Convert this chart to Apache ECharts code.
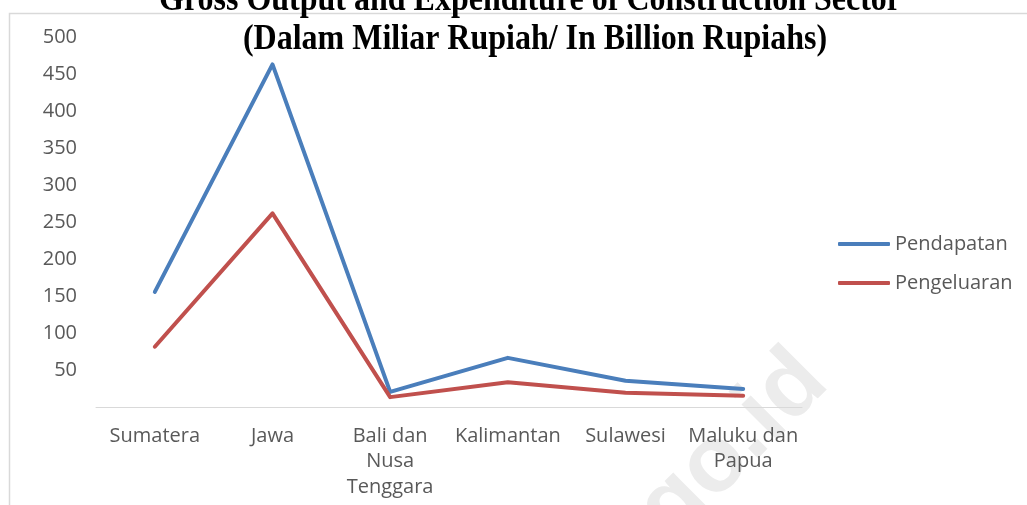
<!DOCTYPE html>
<html>
<head>
<meta charset="utf-8">
<script src="https://cdn.jsdelivr.net/npm/echarts@6/dist/echarts.min.js"></script>
<style>
  html, body { margin: 0; padding: 0; background: #ffffff; }
  #chart { width: 1027px; height: 505px; }
</style>
</head>
<body>
<div id="chart"></div>
<script>
// Regions of Indonesia
const regions = ['Sumatera', 'Jawa', 'Bali dan\nNusa\nTenggara', 'Kalimantan', 'Sulawesi', 'Maluku dan\nPapua'];
// Gross output (Pendapatan) and expenditure (Pengeluaran), billion rupiahs
const pendapatan = [156, 463, 21, 67, 36, 25];
const pengeluaran = [82, 262, 14, 34, 20, 16];
const seriesNames = ['Pendapatan', 'Pengeluaran'];
const titleLines = [
  'Gross Output and Expenditure of Construction Sector',
  '(Dalam Miliar Rupiah/ In Billion Rupiahs)'
];

const labelFont = '"Open Sans", "DejaVu Sans", sans-serif';
const grey = '#595959';
const titleFont = 'bold 32px "Liberation Serif", "Times New Roman", serif';

const chart = echarts.init(document.getElementById('chart'), null, { renderer: 'canvas' });

chart.setOption({
  animation: false,
  backgroundColor: '#ffffff',
  color: ['#4a7ebb', '#c0504d'],
  grid: { left: 96, right: 225, top: 37, bottom: 97.5, containLabel: false },
  legend: {
    orient: 'vertical',
    left: 838,
    top: 234,
    padding: 0,
    icon: 'roundRect',
    itemWidth: 52,
    itemHeight: 4,
    itemGap: 19,
    data: seriesNames,
    textStyle: { fontFamily: labelFont, fontSize: 20, color: grey, lineHeight: 20 }
  },
  xAxis: {
    type: 'category',
    data: regions,
    boundaryGap: true,
    axisLine: { show: true, lineStyle: { color: '#d9d9d9', width: 1 } },
    axisTick: { show: false },
    axisLabel: {
      interval: 0,
      margin: 16,
      fontFamily: labelFont,
      fontSize: 20,
      lineHeight: 25.5,
      color: grey
    }
  },
  yAxis: {
    type: 'value',
    min: 0,
    max: 500,
    interval: 50,
    axisLine: { show: false },
    axisTick: { show: false },
    splitLine: { show: false },
    axisLabel: {
      margin: 19,
      fontFamily: labelFont,
      fontSize: 20,
      color: grey,
      formatter: v => (v === 0 ? '' : String(v))
    }
  },
  series: [
    {
      name: seriesNames[0],
      type: 'line',
      data: pendapatan,
      symbol: 'none',
      z: 3,
      lineStyle: { width: 4, cap: 'round', join: 'round' }
    },
    {
      name: seriesNames[1],
      type: 'line',
      data: pengeluaran,
      symbol: 'none',
      z: 3,
      lineStyle: { width: 4, cap: 'round', join: 'round' }
    }
  ],
  graphic: [
    // faint diagonal watermark
    {
      type: 'text',
      z: -10,
      x: 846,
      y: 400,
      rotation: Math.PI / 4,
      style: {
        text: 'bps.go.id',
        font: 'bold 94px "Liberation Sans", Arial, sans-serif',
        fill: '#ececec',
        textAlign: 'right',
        textVerticalAlign: 'bottom'
      }
    },
    // frame around the plot
    {
      type: 'polyline',
      z: 1,
      shape: { points: [[9.5, 505], [9.5, 13.5], [1027, 13.5]] },
      style: { stroke: '#d9d9d9', lineWidth: 1.5, fill: null }
    },
    // two-line heading, slightly tall letterforms
    {
      type: 'text',
      z: 10,
      x: 530,
      y: 1,
      scaleY: 1.14,
      style: {
        text: titleLines[0],
        font: titleFont,
        fill: '#000000',
        textAlign: 'center',
        textVerticalAlign: 'middle'
      }
    },
    {
      type: 'text',
      z: 10,
      x: 535,
      y: 40,
      scaleY: 1.14,
      style: {
        text: titleLines[1],
        font: titleFont,
        fill: '#000000',
        textAlign: 'center',
        textVerticalAlign: 'middle'
      }
    }
  ]
});
</script>
</body>
</html>
